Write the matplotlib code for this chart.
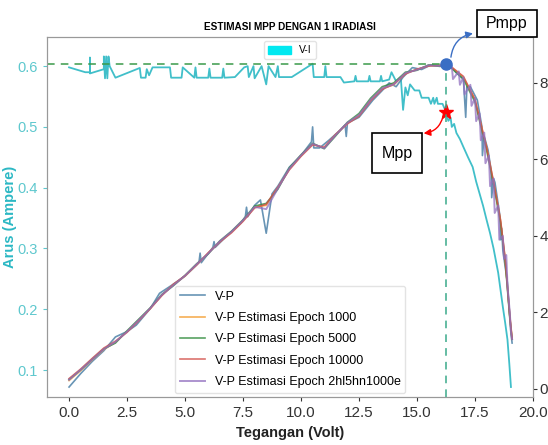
import matplotlib.pyplot as plt
from matplotlib.patches import Patch, Rectangle

plt.rcParams['font.family'] = ['Liberation Sans', 'DejaVu Sans']

# kurva V-I (sumbu kiri)
vi_volt = [0.0, 0.7, 0.9, 0.9, 0.9, 1.5, 1.5, 1.55, 1.6, 1.65,
           1.7, 1.75, 2.0, 3.05, 3.1, 3.3, 3.35, 3.45, 3.6, 4.35,
           4.4, 4.85, 4.9, 5.4, 5.45, 5.5, 6.0, 6.05, 6.1, 6.6,
           6.65, 6.7, 7.15, 7.55, 7.7, 7.75, 7.95, 8.0, 8.3, 8.5,
           8.6, 8.9, 9.0, 9.05, 9.6, 10.5, 10.55, 11.0, 11.05, 11.1,
           11.7, 11.85, 12.3, 12.35, 12.4, 12.9, 12.95, 13.0, 13.4, 13.45,
           13.5, 13.8, 13.9, 14.1, 14.3, 14.4, 14.5, 14.6, 14.7, 14.9,
           15.1, 15.2, 15.5, 15.6, 15.7, 15.75, 15.85, 15.9, 16.1, 16.25,
           16.35, 16.45, 16.5, 16.6, 16.7, 16.85, 17.0, 17.2, 17.4, 17.55,
           17.7, 17.85, 18.0, 18.15, 18.3, 18.4, 18.5, 18.6, 18.7, 18.8,
           18.9, 18.98, 19.05]
vi_arus = [0.598, 0.590, 0.590, 0.614, 0.588, 0.595, 0.616, 0.580, 0.616, 0.580,
           0.616, 0.600, 0.581, 0.597, 0.581, 0.581, 0.595, 0.585, 0.598, 0.598,
           0.581, 0.581, 0.598, 0.581, 0.598, 0.581, 0.581, 0.596, 0.581, 0.581,
           0.596, 0.581, 0.582, 0.598, 0.600, 0.582, 0.600, 0.580, 0.600, 0.570,
           0.600, 0.582, 0.600, 0.582, 0.582, 0.604, 0.582, 0.582, 0.600, 0.582,
           0.582, 0.573, 0.575, 0.584, 0.575, 0.575, 0.584, 0.575, 0.575, 0.584,
           0.575, 0.578, 0.590, 0.575, 0.582, 0.528, 0.565, 0.552, 0.570, 0.560,
           0.560, 0.548, 0.548, 0.538, 0.548, 0.538, 0.548, 0.538, 0.538, 0.525,
           0.51, 0.515, 0.50, 0.505, 0.49, 0.48, 0.467, 0.45, 0.434, 0.41,
           0.39, 0.37, 0.347, 0.325, 0.30, 0.28, 0.26, 0.232, 0.204, 0.178,
           0.15, 0.11, 0.072]

# kurva V-P terukur (sumbu kanan)
vp_volt = [0.0, 0.5, 1.0, 1.5, 2.0, 2.5, 2.9, 3.5, 3.9, 4.4,
           5.0, 5.6, 5.65, 5.7, 6.2, 6.25, 6.3, 6.8, 7.4, 7.6,
           7.65, 7.7, 8.0, 8.25, 8.5, 8.75, 9.0, 9.5, 10.0, 10.45,
           10.5, 10.55, 10.8, 11.2, 11.55, 11.9, 11.95, 12.0, 12.5, 13.1,
           13.5, 13.8, 14.1, 14.4, 14.8, 15.2, 15.6, 16.0, 16.25, 16.5,
           16.7, 17.0, 17.1, 17.15, 17.3, 17.6, 17.8, 17.82, 17.9, 18.06,
           18.2, 18.22, 18.3, 18.36, 18.58, 18.6, 18.65, 18.7, 18.9, 18.95,
           19.0, 19.05, 19.1]
vp_daya = [0.05, 0.4, 0.72, 1.0, 1.36, 1.5, 1.67, 2.1, 2.5, 2.7,
           2.95, 3.3, 3.55, 3.3, 3.7, 3.85, 3.7, 4.0, 4.33, 4.5,
           4.75, 4.5, 4.8, 4.94, 4.07, 5.1, 5.3, 5.8, 6.1, 6.46,
           6.85, 6.3, 6.3, 6.5, 6.69, 6.9, 6.6, 6.95, 7.1, 7.55,
           7.8, 8.0, 7.9, 8.15, 8.4, 8.35, 8.47, 8.45, 8.5, 8.4,
           8.26, 8.1, 7.1, 7.9, 7.9, 7.55, 6.85, 6.1, 6.6, 6.25,
           5.7, 5.0, 5.5, 5.4, 4.5, 3.9, 4.2, 3.63, 2.77, 2.3,
           1.9, 1.45, 1.2]

# estimasi V-P
est_volt = [0.0, 0.5, 1.0, 1.5, 2.0, 2.5, 3.0, 3.5, 4.0, 4.5,
            5.0, 5.5, 6.0, 6.5, 7.0, 7.5, 8.0, 8.5, 9.0, 9.5,
            10.0, 10.5, 11.0, 11.5, 12.0, 12.5, 13.0, 13.5, 14.0, 14.5,
            15.0, 15.5, 16.0, 16.25, 16.5, 17.0, 17.5, 18.0, 18.3, 18.6,
            18.8, 19.0, 19.1]
est_1000 = [0.22, 0.48, 0.76, 1.03, 1.22, 1.5, 1.8, 2.1, 2.45, 2.72,
            2.95, 3.25, 3.55, 3.85, 4.1, 4.4, 4.75, 4.8, 5.25, 5.75,
            6.1, 6.4, 6.3, 6.65, 6.95, 7.15, 7.55, 7.85, 7.95, 8.25,
            8.35, 8.45, 8.45, 8.5, 8.4, 8.15, 7.55, 6.3, 5.4, 4.4,
            3.4, 1.9, 1.3]
est_5000 = [0.25, 0.5, 0.78, 1.05, 1.2, 1.52, 1.82, 2.12, 2.47, 2.7,
            2.97, 3.27, 3.53, 3.87, 4.12, 4.42, 4.78, 4.85, 5.22, 5.78,
            6.12, 6.42, 6.28, 6.62, 6.97, 7.2, 7.6, 7.9, 8.0, 8.28,
            8.33, 8.47, 8.43, 8.5, 8.38, 8.1, 7.5, 6.25, 5.35, 4.35,
            3.35, 1.85, 1.3]
est_10000 = [0.27, 0.52, 0.8, 1.07, 1.25, 1.48, 1.78, 2.1, 2.44, 2.74,
             2.96, 3.24, 3.56, 3.84, 4.08, 4.38, 4.73, 4.83, 5.27, 5.73,
             6.08, 6.38, 6.32, 6.66, 6.93, 7.13, 7.53, 7.83, 7.97, 8.23,
             8.36, 8.44, 8.46, 8.49, 8.41, 8.17, 7.57, 6.32, 5.42, 4.42,
             3.42, 1.92, 1.32]
est_2hl_volt = [0.0, 0.5, 1.0, 1.5, 2.0, 2.5, 3.0, 3.5, 4.0, 4.5,
                5.0, 5.5, 6.0, 6.5, 7.0, 7.5, 8.0, 8.5, 9.0, 9.5,
                10.0, 10.5, 11.0, 11.5, 12.0, 12.5, 13.0, 13.5, 14.0, 14.5,
                15.0, 15.5, 16.0, 16.25, 16.5, 16.55, 16.8, 16.85, 17.0, 17.05,
                17.3, 17.35, 17.5, 17.55, 17.7, 17.75, 17.9, 17.95, 18.1, 18.15,
                18.3, 18.35, 18.5, 18.55, 18.7, 18.75, 18.85, 18.9, 19.0, 19.05,
                19.1]
est_2hl = [0.24, 0.5, 0.77, 1.04, 1.23, 1.5, 1.8, 2.11, 2.46, 2.71,
           2.96, 3.26, 3.54, 3.86, 4.11, 4.41, 4.76, 4.7, 5.24, 5.76,
           6.11, 6.41, 6.29, 6.64, 6.96, 7.16, 7.56, 7.86, 7.96, 8.26,
           8.34, 8.46, 8.44, 8.5, 8.45, 8.1, 8.3, 7.95, 8.15, 7.7,
           7.95, 7.4, 7.6, 7.0, 7.2, 6.5, 6.7, 5.9, 6.1, 5.3,
           5.5, 4.6, 4.8, 3.9, 4.0, 3.4, 3.5, 2.7, 2.0, 1.5,
           1.3]

mpp_volt = 16.25
mpp_arus = 0.525
pmpp = 8.5

cyan = '#2cb8c4'

fig = plt.figure(figsize=(5.48, 4.45), dpi=100)
ax1 = fig.add_axes([0.0858, 0.1079, 0.8868, 0.809])
ax2 = ax1.twinx()

ax1.plot(vi_volt, vi_arus, color=cyan, lw=1.3, alpha=0.9)
ax1.plot(mpp_volt, mpp_arus, marker='*', color='red', ms=11, ls='none', zorder=5)

ax2.plot(vp_volt, vp_daya, color='#4d82a8', lw=1.2, alpha=0.85, label='V-P')
ax2.plot(est_volt, est_1000, color='#f5a742', lw=1.2, alpha=0.9, label='V-P Estimasi Epoch 1000')
ax2.plot(est_volt, est_5000, color='#2e8b3a', lw=1.2, alpha=0.8, label='V-P Estimasi Epoch 5000')
ax2.plot(est_volt, est_10000, color='#d2504a', lw=1.2, alpha=0.8, label='V-P Estimasi Epoch 10000')
ax2.plot(est_2hl_volt, est_2hl, color='#9270c0', lw=1.4, alpha=0.75, label='V-P Estimasi Epoch 2hl5hn1000e')
ax2.plot(mpp_volt, pmpp, marker='o', color='#3a6ec4', ms=8, ls='none', zorder=6)

# garis bantu MPP
ax2.plot([-0.95, mpp_volt], [pmpp, pmpp], color='#3a9a4a', ls='--', lw=1.1, dashes=(5, 4))
ax2.plot([mpp_volt, mpp_volt], [-0.21, pmpp], color='#3aaa8a', ls='--', lw=1.1, dashes=(5, 4))

ax1.set_xlim(-0.95, 20)
ax1.set_ylim(0.0556, 0.648)
ax2.set_ylim(-0.21, 9.2)
ax1.set_xticks([0, 2.5, 5, 7.5, 10, 12.5, 15, 17.5, 20])
ax1.set_xticklabels(['0.0', '2.5', '5.0', '7.5', '10.0', '12.5', '15.0', '17.5', '20.0'])
ax1.set_yticks([0.1, 0.2, 0.3, 0.4, 0.5, 0.6])
ax2.set_yticks([0, 2, 4, 6, 8])

for ax in (ax1, ax2):
    for s in ax.spines.values():
        s.set_color('#999999')
ax1.tick_params(axis='x', labelsize=11, colors='#333333', length=3)
ax1.tick_params(axis='y', labelsize=10.5, colors='#5ec8ce', length=3)
ax2.tick_params(axis='y', labelsize=11, colors='#333333', length=3, pad=1.5)

ax1.set_xlabel('Tegangan (Volt)', fontsize=10.5, fontweight='bold', color='#222222', labelpad=4)
ax1.set_ylabel('Arus (Ampere)', fontsize=10.5, fontweight='bold', color=cyan)
ax1.yaxis.set_label_coords(-0.062, 0.5)
ax2.set_ylabel('Daya (Watt)', fontsize=10.5, fontweight='bold', color='#333333', labelpad=10)
ax1.set_title('ESTIMASI MPP DENGAN 1 IRADIASI', fontsize=7.2, fontweight='bold', pad=5)

leg1 = ax1.legend(handles=[Patch(color='#00e8f0', label='V-I')], loc='upper center',
                  fontsize=7.5, handlelength=2.2, handleheight=0.8,
                  borderaxespad=0.4, framealpha=0.8, edgecolor='#dddddd')
ax2.legend(loc='lower center', fontsize=9, borderaxespad=0.3, handlelength=2.0,
           labelspacing=0.75, framealpha=0.8, edgecolor='#dddddd')

# kotak keterangan Pmpp dan Mpp
fig.add_artist(Rectangle((0.8704, 0.9169), 0.1095, 0.0607, transform=fig.transFigure,
                         fc='white', ec='black', lw=1.2))
fig.text(0.925, 0.947, 'Pmpp', fontsize=11.5, ha='center', va='center')
fig.add_artist(Rectangle((0.679, 0.611), 0.0912, 0.0899, transform=fig.transFigure,
                         fc='white', ec='black', lw=1.2, zorder=5))
fig.text(0.7245, 0.656, 'Mpp', fontsize=11.5, ha='center', va='center', zorder=6)

ax2.annotate('', xy=(0.868, 0.926), xycoords='figure fraction',
             xytext=(mpp_volt + 0.2, pmpp + 0.1), textcoords='data',
             arrowprops=dict(arrowstyle='-|>', color='#3a6ec4', lw=1,
                             connectionstyle='arc3,rad=-0.4'),
             annotation_clip=False)
ax1.annotate('', xy=(0.768, 0.700), xycoords='figure fraction',
             xytext=(mpp_volt - 0.1, mpp_arus - 0.003), textcoords='data',
             arrowprops=dict(arrowstyle='-|>', color='red', lw=1,
                             connectionstyle='arc3,rad=-0.4'),
             annotation_clip=False)

plt.savefig('out.png', dpi=100)
